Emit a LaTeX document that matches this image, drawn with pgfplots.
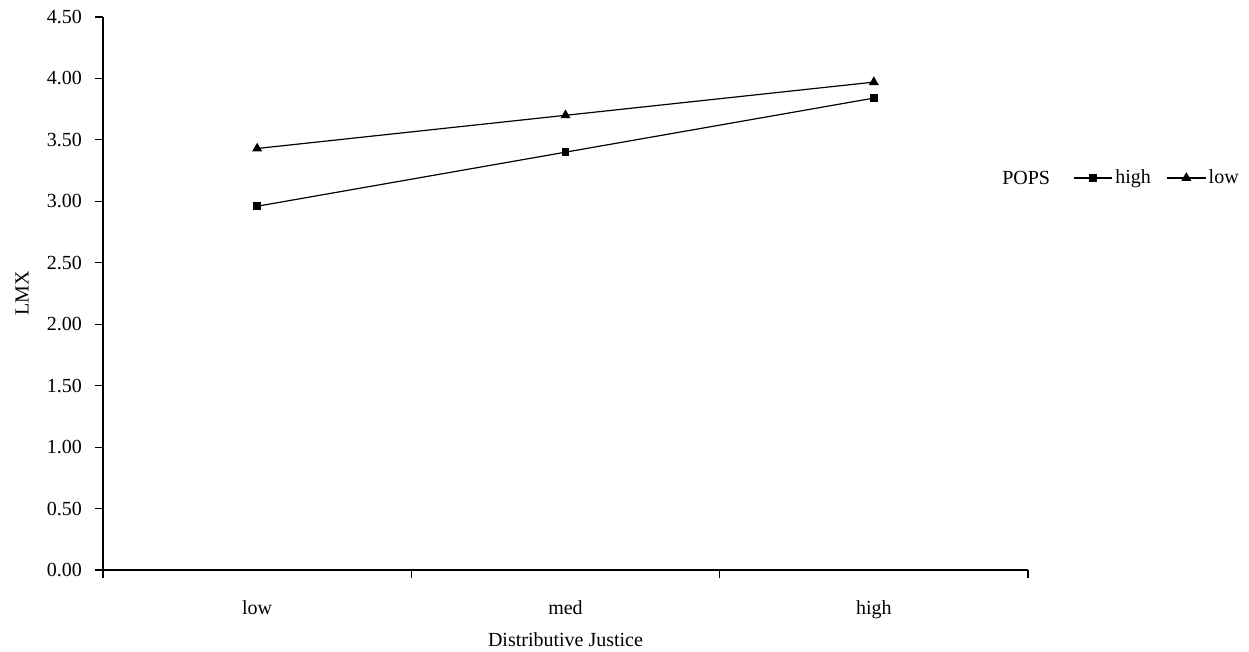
\documentclass[border=0pt]{standalone}
\usepackage{fontspec}
\setmainfont{Liberation Serif}
\usepackage{pgfplots}
\pgfplotsset{compat=1.18}
\begin{document}
\begin{tikzpicture}
\begin{axis}[
  scale only axis,
  width=462.5pt, height=276.5pt,
  at={(0,0)}, anchor=south west,
  xmin=-0.5, xmax=2.5,
  ymin=0, ymax=4.5,
  axis x line*=bottom, axis y line*=left,
  axis line style={black, line width=0.6pt},
  tick align=outside,
  major tick length=4pt,
  tick style={black, line width=0.6pt},
  xtick={-0.5,0.5,1.5,2.5},
  xticklabels={},
  extra x ticks={0,1,2},
  extra x tick labels={low,med,high},
  extra x tick style={major tick length=0pt, xticklabel style={yshift=-12pt}},
  ytick={0,0.5,...,4.5},
  yticklabel style={/pgf/number format/.cd, fixed, fixed zerofill, precision=2, /tikz/.cd, xshift=-3pt},
  /pgf/number format/assume math mode=true,
  xlabel={Distributive Justice},
  xlabel style={at={(0.5,0)}, anchor=center, yshift=-35pt},
  ylabel={LMX},
  every axis y label/.style={at={(axis description cs:-0.0876,0.5)}, rotate=90, anchor=center},
  legend style={draw=none, fill=none, at={(1.0417,0.709)}, anchor=west,
    legend columns=2, font=\normalsize, inner xsep=3pt,
    nodes={inner sep=1.2pt},
    /tikz/every even column/.append style={column sep=6.6pt}},
  legend image code/.code={
    \draw[mark repeat=2,mark phase=2] plot coordinates {(0cm,0cm) (0.34cm,0cm) (0.68cm,0cm)};
  },
  clip=false,
]
\addplot[black, line width=0.6pt, mark=square*, mark size=1.6pt] coordinates {(0,2.96) (1,3.40) (2,3.84)};
\addlegendentry{high}
\addplot[black, line width=0.6pt, mark=triangle*, mark size=2.3pt] coordinates {(0,3.43) (1,3.70) (2,3.97)};
\addlegendentry{low}
\node[anchor=west] at (rel axis cs:0.9646,0.709) {POPS};
\end{axis}
\pgfresetboundingbox
\path[use as bounding box] (-51.5pt,-41pt) rectangle (573pt,285pt);
\end{tikzpicture}
\end{document}
